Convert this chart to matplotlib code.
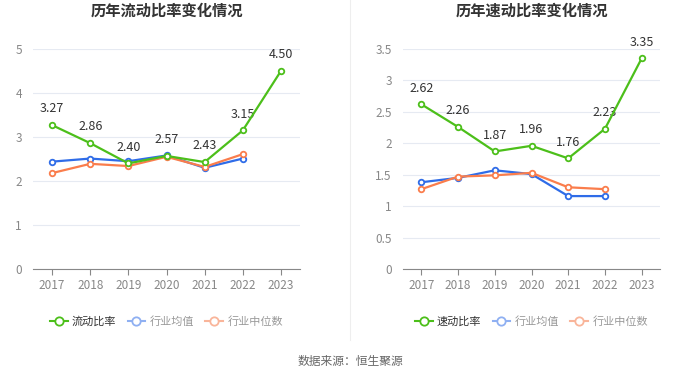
import matplotlib
matplotlib.use("Agg")
import matplotlib.pyplot as plt
from matplotlib.lines import Line2D

plt.rcParams['font.family'] = ['Noto Sans CJK SC', 'DejaVu Sans']

years = ["2017", "2018", "2019", "2020", "2021", "2022", "2023"]

current_ratio = [3.27, 2.86, 2.40, 2.57, 2.43, 3.15, 4.50]
current_avg = [2.44, 2.51, 2.45, 2.58, 2.30, 2.51]
current_median = [2.18, 2.39, 2.34, 2.55, 2.32, 2.61]

quick_ratio = [2.62, 2.26, 1.87, 1.96, 1.76, 2.23, 3.35]
quick_avg = [1.38, 1.45, 1.57, 1.51, 1.16, 1.16]
quick_median = [1.27, 1.47, 1.49, 1.53, 1.30, 1.27]

GREEN = "#4cbf1a"
BLUE = "#2f6ce8"
ORANGE = "#fa7d4c"
GRID = "#e6eaf2"
TICK = "#888888"


def draw(ax, main, avg, med, yticks, title, main_name):
    x = list(range(len(years)))
    kw = dict(lw=1.6, marker="o", ms=4, mfc="white", mew=1.3)
    ax.plot(x[:len(avg)], avg, color=BLUE, zorder=3, **kw)
    ax.plot(x[:len(med)], med, color=ORANGE, zorder=3, **kw)
    ax.plot(x, main, color=GREEN, zorder=4, **kw)
    for xi, v in zip(x, main):
        ax.annotate(f"{v:.2f}", (xi, v), xytext=(0, 7), textcoords="offset points",
                    ha="center", va="bottom", fontsize=9, color="#333333")
    ax.set_xlim(-0.5, len(years) - 0.5)
    ax.set_ylim(0, yticks[-1])
    ax.set_yticks(yticks)
    ax.set_yticklabels([f"{t:g}" for t in yticks])
    ax.set_xticks(x)
    ax.set_xticklabels(years)
    ax.grid(axis="y", color=GRID, lw=0.8)
    ax.set_axisbelow(True)
    for s in ["top", "right", "left"]:
        ax.spines[s].set_visible(False)
    ax.spines["bottom"].set_color("#888888")
    ax.tick_params(axis="y", length=0, colors=TICK, labelsize=8.5, pad=8)
    ax.tick_params(axis="x", length=4, colors="#888888", labelcolor=TICK, labelsize=8.5)
    ax.set_title(title, fontsize=11, fontweight="bold", color="#333333", pad=0, y=1.15)
    handles = [
        Line2D([], [], color=GREEN, marker="o", mfc="white", ms=6, lw=1.5, mew=1.3),
        Line2D([], [], color="#8fb0f2", marker="o", mfc="white", ms=6, lw=1.5, mew=1.3),
        Line2D([], [], color="#f9b59a", marker="o", mfc="white", ms=6, lw=1.5, mew=1.3),
    ]
    leg = ax.legend(handles, [main_name, "行业均值", "行业中位数"], loc="upper center",
                    bbox_to_anchor=(0.5, -0.17), ncol=3, frameon=False, fontsize=8,
                    handlelength=1.6, columnspacing=1.0, handletextpad=0.4)
    for i, t in enumerate(leg.get_texts()):
        t.set_color("#333333" if i == 0 else "#999999")


fig = plt.figure(figsize=(7, 3.78), dpi=100)
ax1 = fig.add_axes([33 / 700, 1 - 269 / 378, 267 / 700, 220 / 378])
ax2 = fig.add_axes([403 / 700, 1 - 269 / 378, 257 / 700, 220 / 378])

draw(ax1, current_ratio, current_avg, current_median, [0, 1, 2, 3, 4, 5],
     "历年流动比率变化情况", "流动比率")
draw(ax2, quick_ratio, quick_avg, quick_median, [0, 0.5, 1, 1.5, 2, 2.5, 3, 3.5],
     "历年速动比率变化情况", "速动比率")

fig.add_artist(Line2D([0.5, 0.5], [1 - 340 / 378, 1.0], color="#eeeeee", lw=0.8))
fig.text(0.5, 1 - 361 / 378, "数据来源：恒生聚源", ha="center", va="center",
         fontsize=8.5, color="#666666")

fig.savefig("out.png", dpi=100)
